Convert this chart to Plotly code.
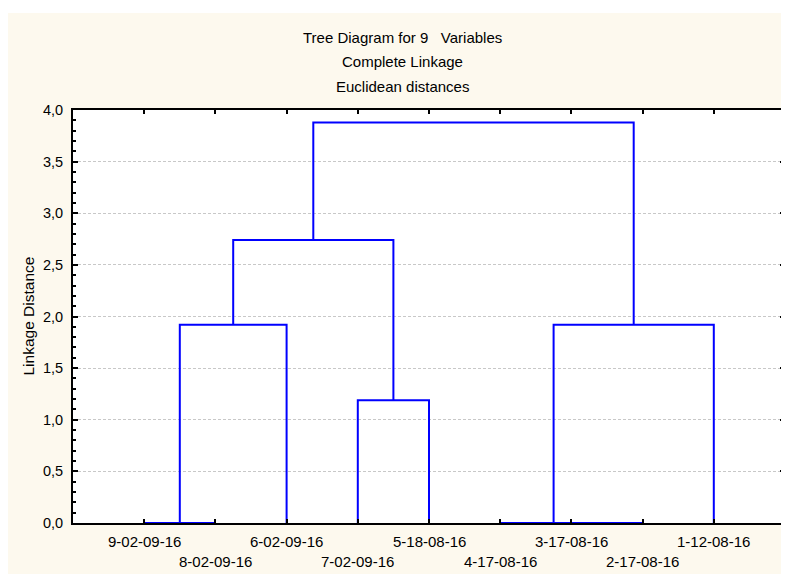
import plotly.graph_objects as go

# ---- data ----
leaf_labels = ["9-02-09-16", "8-02-09-16", "6-02-09-16", "7-02-09-16", "5-18-08-16",
               "4-17-08-16", "3-17-08-16", "2-17-08-16", "1-12-08-16"]
# merges: node ids 0-8 are leaves, 9.. are clusters in merge order
merge_left = [0, 6, 5, 3, 9, 11, 13, 15]
merge_right = [1, 7, 10, 4, 2, 8, 12, 14]
merge_height = [0.0, 0.0, 0.0, 1.19, 1.92, 1.92, 2.74, 3.88]

title_lines = ["Tree Diagram for 9\u00a0\u00a0\u00a0Variables", "Complete Linkage", "Euclidean distances"]
y_title = "Linkage Distance"

# ---- build dendrogram segments ----
pos = {i: float(i) for i in range(len(leaf_labels))}
hgt = {i: 0.0 for i in range(len(leaf_labels))}
xs, ys = [], []
nid = len(leaf_labels)
for a, b, h in zip(merge_left, merge_right, merge_height):
    xa, xb = pos[a], pos[b]
    xs += [xa, xa, xb, xb, None]
    ys += [hgt[a], h, h, hgt[b], None]
    pos[nid] = (xa + xb) / 2
    hgt[nid] = h
    nid += 1

# page body has an 8px margin, so the figure is sized to end at the window edge
W, H = 781, 566
ML, MR, MT, MB = 65, 2, 102, 51
PW, PH = W - ML - MR, H - MT - MB
FONT = "Liberation Sans, Arial, sans-serif"

fig = go.Figure()
fig.add_trace(go.Scatter(x=xs, y=ys, mode="lines",
                         line=dict(color="#0000ff", width=2),
                         hoverinfo="skip", showlegend=False, cliponaxis=False))

annotations = []
# title lines
for txt, ypx in zip(title_lines, [30, 53, 78]):
    annotations.append(dict(text=txt, xref="paper", yref="paper",
                            x=(395 - ML) / PW, y=1 + (MT - ypx) / PH,
                            xanchor="center", yanchor="middle", showarrow=False,
                            font=dict(size=15, color="#000", family=FONT)))
# staggered leaf labels
for i, lab in enumerate(leaf_labels):
    annotations.append(dict(text=lab, xref="x", yref="paper", x=i, y=0,
                            yshift=-(18.5 if i % 2 == 0 else 38),
                            xanchor="center", yanchor="middle", showarrow=False,
                            font=dict(size=15, color="#000", family=FONT)))
# y axis title
annotations.append(dict(text=y_title, xref="paper", yref="paper", x=0, y=0.5,
                        xshift=-(ML - 20), textangle=-90, xanchor="center", yanchor="middle",
                        showarrow=False, font=dict(size=15.5, color="#000", family=FONT)))

fig.update_layout(
    width=W, height=H,
    margin=dict(l=ML, r=MR, t=MT, b=MB, pad=0),
    paper_bgcolor="#fdf9ee", plot_bgcolor="#ffffff",
    separators=",.",
    font=dict(family=FONT, size=14, color="#000"),
    showlegend=False,
    annotations=annotations,
    shapes=[dict(type="rect", xref="paper", yref="paper", x0=-0.2, x1=1.2,
                 y0=1 + (MT - 5) / PH, y1=1 + MT / PH + 0.05,
                 fillcolor="#ffffff", line=dict(width=0), layer="below")],
    xaxis=dict(range=[-1, 9], tickmode="array", tickvals=list(range(len(leaf_labels))),
               ticktext=[""] * len(leaf_labels),
               ticks="inside", ticklen=4, tickwidth=1.5, tickcolor="#000",
               showline=True, linecolor="#000", linewidth=2, mirror="allticks",
               showgrid=False, zeroline=False, fixedrange=True),
    yaxis=dict(range=[0, 4], tick0=0, dtick=0.5, tickformat=".1f",
               ticks="inside", ticklen=5, tickwidth=1.5, tickcolor="#000",
               minor=dict(dtick=0.1, ticks="inside", ticklen=3, tickcolor="#000", showgrid=False),
               showline=True, linecolor="#000", linewidth=2, mirror="allticks",
               showgrid=True, gridcolor="#c8c8c8", griddash="3px,2px", gridwidth=1,
               zeroline=False, ticklabelstandoff=5,
               tickfont=dict(size=14.5, family=FONT, color="#000")),
)

fig.write_html("out.html")
